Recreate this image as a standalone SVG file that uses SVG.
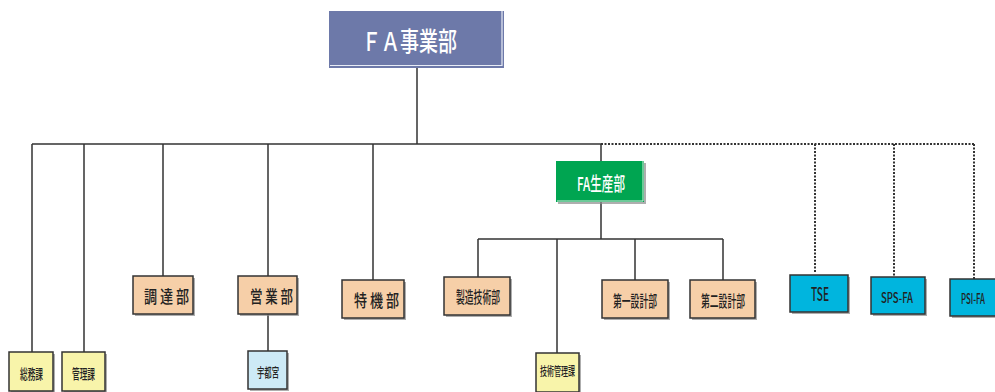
<svg xmlns="http://www.w3.org/2000/svg" width="995" height="392" viewBox="0 0 995 392">
<style>
.sh{fill:#8c8c8c;opacity:0.7}
.bx{stroke:#333;stroke-width:1.5}
.pe{fill:#f6cfa8}
.ye{fill:#f8f4aa}
.lb{fill:#cdeaf6}
.cy{fill:#00b5de}
.t{font-family:"Noto Sans CJK JP","Liberation Sans",sans-serif;fill:#222;font-weight:500}
.w{fill:#fff}
.ln{stroke:#333;stroke-width:1.5;fill:none}
.dt{stroke:#333;stroke-width:2;fill:none;stroke-dasharray:2 1.5}
</style>
<rect width="995" height="392" fill="#fff"/>
<g id="connectors">
<path class="ln" d="M417 68V144M32 144H601M32 144V352M84 144V352M163 144V276M268 144V276M373 144V280M601 144V161M268 314V351M601 202V239M478 239H723M478 239V277M557 239V353M635 239V280M723 239V280"/>
<path class="dt" d="M601 144H974M815 144V273M894 144V276M974 144V279"/>
</g>
<g id="fa_jigyoubu">
<rect x="329" y="11" width="175" height="57" fill="#6d79a9"/>
<polyline points="330,65.5 502,65.5 502,11" fill="none" stroke="#e8ecf6" stroke-width="1.2"/>
<text class="t w" x="362" y="51" font-size="26" textLength="95" lengthAdjust="spacingAndGlyphs">ＦＡ事業部</text>
</g>
<g id="somuka">
<rect class="sh" x="11" y="354" width="44" height="39"/>
<rect class="bx ye" x="9" y="352" width="44" height="39"/>
<text class="t" x="20" y="379" font-size="14" textLength="23" lengthAdjust="spacingAndGlyphs">総務課</text>
</g>
<g id="kanrika">
<rect class="sh" x="64" y="354" width="43" height="39"/>
<rect class="bx ye" x="62" y="352" width="43" height="39"/>
<text class="t" x="72" y="379" font-size="14" textLength="23" lengthAdjust="spacingAndGlyphs">管理課</text>
</g>
<g id="choutatsubu">
<rect class="sh" x="135" y="278" width="60" height="38"/>
<rect class="bx pe" x="133" y="276" width="60" height="38"/>
<text class="t" x="144" y="302.5" font-size="17" textLength="45" lengthAdjust="spacingAndGlyphs">調 達 部</text>
</g>
<g id="eigyoubu">
<rect class="sh" x="240" y="278" width="59" height="38"/>
<rect class="bx pe" x="238" y="276" width="59" height="38"/>
<text class="t" x="250" y="303" font-size="17" textLength="43" lengthAdjust="spacingAndGlyphs">営 業 部</text>
</g>
<g id="utsunomiya">
<rect class="sh" x="250" y="353" width="39" height="38"/>
<rect class="bx lb" x="248" y="351" width="39" height="38"/>
<text class="t" x="257" y="377" font-size="13" textLength="22" lengthAdjust="spacingAndGlyphs">宇都宮</text>
</g>
<g id="tokkibu">
<rect class="sh" x="344" y="282" width="62" height="38"/>
<rect class="bx pe" x="342" y="280" width="62" height="38"/>
<text class="t" x="354" y="306.5" font-size="17" textLength="45" lengthAdjust="spacingAndGlyphs">特 機 部</text>
</g>
<g id="fa_seisanbu">
<rect class="sh" x="558" y="163" width="88" height="41"/>
<rect x="556" y="161" width="88" height="41" fill="#00a551"/>
<polyline points="557,201 643,201 643,161" fill="none" stroke="#d8eee0" stroke-width="1"/>
<text class="t w" x="577" y="191" font-size="19" textLength="48" lengthAdjust="spacingAndGlyphs">FA生産部</text>
</g>
<g id="seizougijutsubu">
<rect class="sh" x="446" y="279" width="66" height="38"/>
<rect class="bx pe" x="444" y="277" width="66" height="38"/>
<text class="t" x="456" y="303" font-size="16" textLength="44" lengthAdjust="spacingAndGlyphs">製造技術部</text>
</g>
<g id="gijutsukanrika">
<rect class="sh" x="538" y="355" width="43" height="39"/>
<rect class="bx ye" x="536" y="353" width="43" height="39"/>
<text class="t" x="540" y="375.5" font-size="12" textLength="35" lengthAdjust="spacingAndGlyphs">技術管理課</text>
</g>
<g id="daiichisekkeibu">
<rect class="sh" x="604" y="282" width="66" height="38"/>
<rect class="bx pe" x="602" y="280" width="66" height="38"/>
<text class="t" x="613" y="306.5" font-size="16" textLength="44" lengthAdjust="spacingAndGlyphs">第一設計部</text>
</g>
<g id="dainisekkeibu">
<rect class="sh" x="692" y="282" width="65" height="38"/>
<rect class="bx pe" x="690" y="280" width="65" height="38"/>
<text class="t" x="701" y="306.5" font-size="16" textLength="44" lengthAdjust="spacingAndGlyphs">第二設計部</text>
</g>
<g id="tse">
<rect class="sh" x="792" y="277" width="58" height="37"/>
<rect class="bx cy" x="790" y="275" width="58" height="37"/>
<text class="t" x="811" y="301" font-size="18" textLength="18" lengthAdjust="spacingAndGlyphs">TSE</text>
</g>
<g id="sps_fa">
<rect class="sh" x="873" y="279" width="54" height="37"/>
<rect class="bx cy" x="871" y="277" width="54" height="37"/>
<text class="t" x="881" y="303" font-size="14" textLength="32" lengthAdjust="spacingAndGlyphs">SPS-FA</text>
</g>
<g id="psi_fa">
<rect class="sh" x="952" y="281" width="45" height="37"/>
<rect class="bx cy" x="950" y="279" width="46" height="37"/>
<text class="t" x="961" y="303.5" font-size="14" textLength="24" lengthAdjust="spacingAndGlyphs">PSI-FA</text>
</g>
</svg>
